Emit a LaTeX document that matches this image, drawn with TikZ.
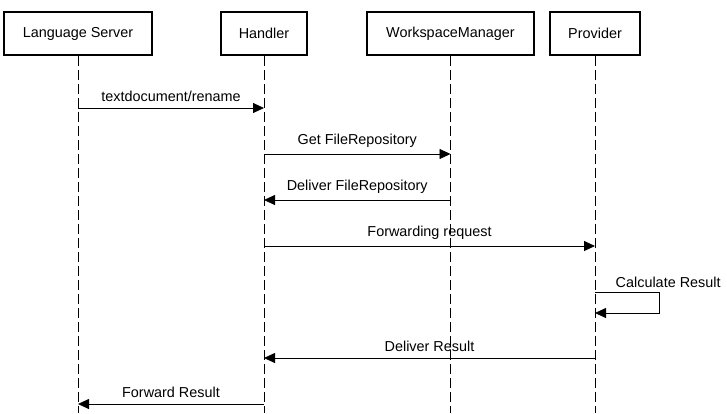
\documentclass[tikz,border=0pt]{standalone}
\usepackage{fontspec}
\setmainfont{Liberation Sans}
\usetikzlibrary{arrows.meta,positioning}
\tikzset{every picture/.style={line width=0.8pt}}
\tikzstyle{actor}=[draw,line width=1.6pt,minimum height=43pt,inner sep=0pt]
\tikzstyle{lifeline}=[dash pattern=on 10pt off 4pt]
\tikzstyle{msg}=[-{Triangle[length=11pt,width=10pt]}]

\begin{document}
\begin{tikzpicture}[x=1pt,y=-1pt,font=\fontsize{14.4}{16}\selectfont]
\useasboundingbox (0,0) rectangle (727,413);
\node[actor,minimum width=148pt] (LS) at (78,33.5) {Language Server};
\node[actor,minimum width=86pt] (H) at (264,33.5) {Handler};
\node[actor,minimum width=167pt] (WM) at (450.5,33.5) {WorkspaceManager};
\node[actor,minimum width=90pt] (P) at (595,33.5) {Provider};
% lifelines
\foreach \n in {LS,H,WM,P}
  \draw[lifeline] (\n) -- (\n |- 0,413);
% messages
\path[msg,every node/.style={above=3pt}]
(LS |- 0,108) edge node{textdocument/rename} (H |- 0,108)
(H |- 0,154) edge node{Get FileRepository} (WM |- 0,154)
(WM |- 0,200) edge node{Deliver FileRepository} (H |- 0,200)
(H |- 0,246) edge node{Forwarding request} (P |- 0,246)
(P |- 0,358) edge node{Deliver Result} (H |- 0,358)
(H |- 0,404) edge node{Forward Result} (LS |- 0,404);
% self call
\coordinate (loop) at (659,292);
\draw[msg] (P |- loop) -- (loop) -- (659,313) -- (P |- 0,313);
\node[above right=1pt and -47pt of loop] (calc) {Calculate Result};
\end{tikzpicture}
\end{document}
